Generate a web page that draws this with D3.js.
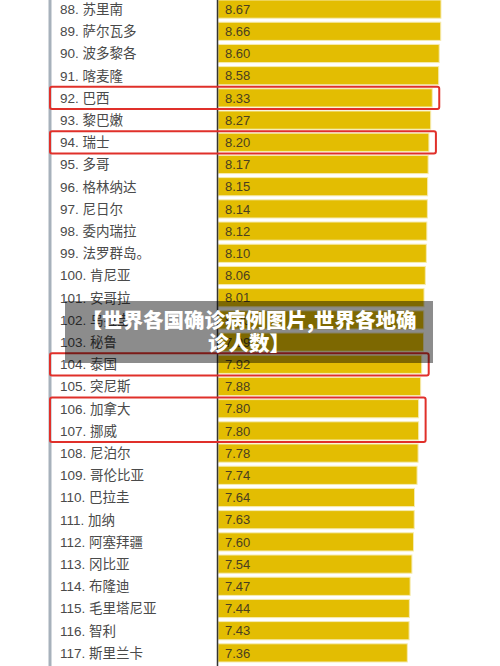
<!DOCTYPE html>
<html>
<head>
<meta charset="utf-8">
<script src="https://cdn.jsdelivr.net/npm/d3@7"></script>
<style>
  body { margin: 0; background: #fff; }
  svg { display: block; }
</style>
</head>
<body>
<svg id="chart"></svg>
<script>
const ranks = [88, 89, 90, 91, 92, 93, 94, 95, 96, 97, 98, 99, 100, 101, 102, 103, 104, 105, 106, 107, 108, 109, 110, 111, 112, 113, 114, 115, 116, 117];
const countries = ["苏里南", "萨尔瓦多", "波多黎各", "喀麦隆", "巴西", "黎巴嫩", "瑞士", "多哥", "格林纳达", "尼日尔", "委内瑞拉", "法罗群岛。", "肯尼亚", "安哥拉", "乌拉圭", "秘鲁", "泰国", "突尼斯", "加拿大", "挪威", "尼泊尔", "哥伦比亚", "巴拉圭", "加纳", "阿塞拜疆", "冈比亚", "布隆迪", "毛里塔尼亚", "智利", "斯里兰卡"];
const values = [8.67, 8.66, 8.60, 8.58, 8.33, 8.27, 8.20, 8.17, 8.15, 8.14, 8.12, 8.10, 8.06, 8.01, 8.00, 7.99, 7.92, 7.88, 7.80, 7.80, 7.78, 7.74, 7.64, 7.63, 7.60, 7.54, 7.47, 7.44, 7.43, 7.36];
const highlights = [[92], [94], [104], [106, 107]];
const titleLines = ["【世界各国确诊病例图片,世界各地确", "诊人数】"];

const width = 500, height = 666;
const data = ranks.map((r, i) => ({rank: r, country: countries[i], value: values[i]}));

const svg = d3.select("#chart")
  .attr("width", width)
  .attr("height", height);

const y = d3.scaleBand()
  .domain(ranks)
  .range([-2, -2 + ranks.length * 22.2])
  .paddingInner(0.18)
  .paddingOuter(0.09);

const x = d3.scaleLinear()
  .domain([0, d3.max(values)])
  .range([218, 441]);

const fontStack = "'Liberation Sans', 'Noto Sans CJK SC', Arial, sans-serif";

// left panel border
svg.append("line")
  .attr("x1", 50).attr("x2", 50)
  .attr("y1", 0).attr("y2", height)
  .style("stroke", "#a7b1bb")
  .style("stroke-width", 3);

// bars
svg.selectAll("rect.bar")
  .data(data)
  .enter().append("rect")
  .attr("class", "bar")
  .attr("x", x(0))
  .attr("y", d => y(d.rank))
  .attr("width", d => x(d.value) - x(0))
  .attr("height", y.bandwidth())
  .style("fill", "#e3bd02")
  .style("stroke", "#f6ebb0")
  .style("stroke-width", 1);

// axis line
svg.append("line")
  .attr("x1", 217.5).attr("x2", 217.5)
  .attr("y1", 0).attr("y2", height)
  .style("stroke", "#333")
  .style("stroke-width", 1.5);

// value labels
svg.selectAll("text.value")
  .data(data)
  .enter().append("text")
  .attr("class", "value")
  .attr("x", 225)
  .attr("y", d => y(d.rank) + y.bandwidth() / 2)
  .attr("dy", "0.36em")
  .style("font-family", fontStack)
  .style("font-size", "13px")
  .style("fill", "#4a4020")
  .text(d => d.value.toFixed(2));

// country labels
svg.selectAll("text.countrylabel")
  .data(data)
  .enter().append("text")
  .attr("class", "countrylabel")
  .attr("x", 60)
  .attr("y", d => y(d.rank) + y.bandwidth() / 2)
  .attr("dy", "0.36em")
  .style("font-family", fontStack)
  .style("font-size", "13.5px")
  .style("fill", "#4a4a4a")
  .text(d => d.rank + ". " + d.country);

// red highlight boxes
const step = y.step();
svg.selectAll("rect.highlight")
  .data(highlights)
  .enter().append("rect")
  .attr("class", "highlight")
  .attr("x", 50)
  .attr("y", d => y(d[0]) + y.bandwidth() / 2 - step / 2)
  .attr("width", d => x(d3.max(d, r => values[ranks.indexOf(r)])) + 7 - 50)
  .attr("height", d => step * d.length)
  .attr("rx", 2)
  .style("fill", "none")
  .style("stroke", "#e0302a")
  .style("stroke-width", 2);

// title overlay
svg.append("rect")
  .attr("x", 65).attr("y", 301)
  .attr("width", 368).attr("height", 62)
  .style("fill", "rgba(0,0,0,0.45)");

svg.selectAll("text.title")
  .data(titleLines)
  .enter().append("text")
  .attr("class", "title")
  .attr("x", 249)
  .attr("y", (d, i) => 321 + i * 23)
  .attr("dy", "0.36em")
  .attr("text-anchor", "middle")
  .style("font-family", "'Noto Sans CJK SC', sans-serif")
  .style("font-weight", "900")
  .style("font-size", "20.5px")
  .style("fill", "#fff")
  .text(d => d);
</script>
</body>
</html>
